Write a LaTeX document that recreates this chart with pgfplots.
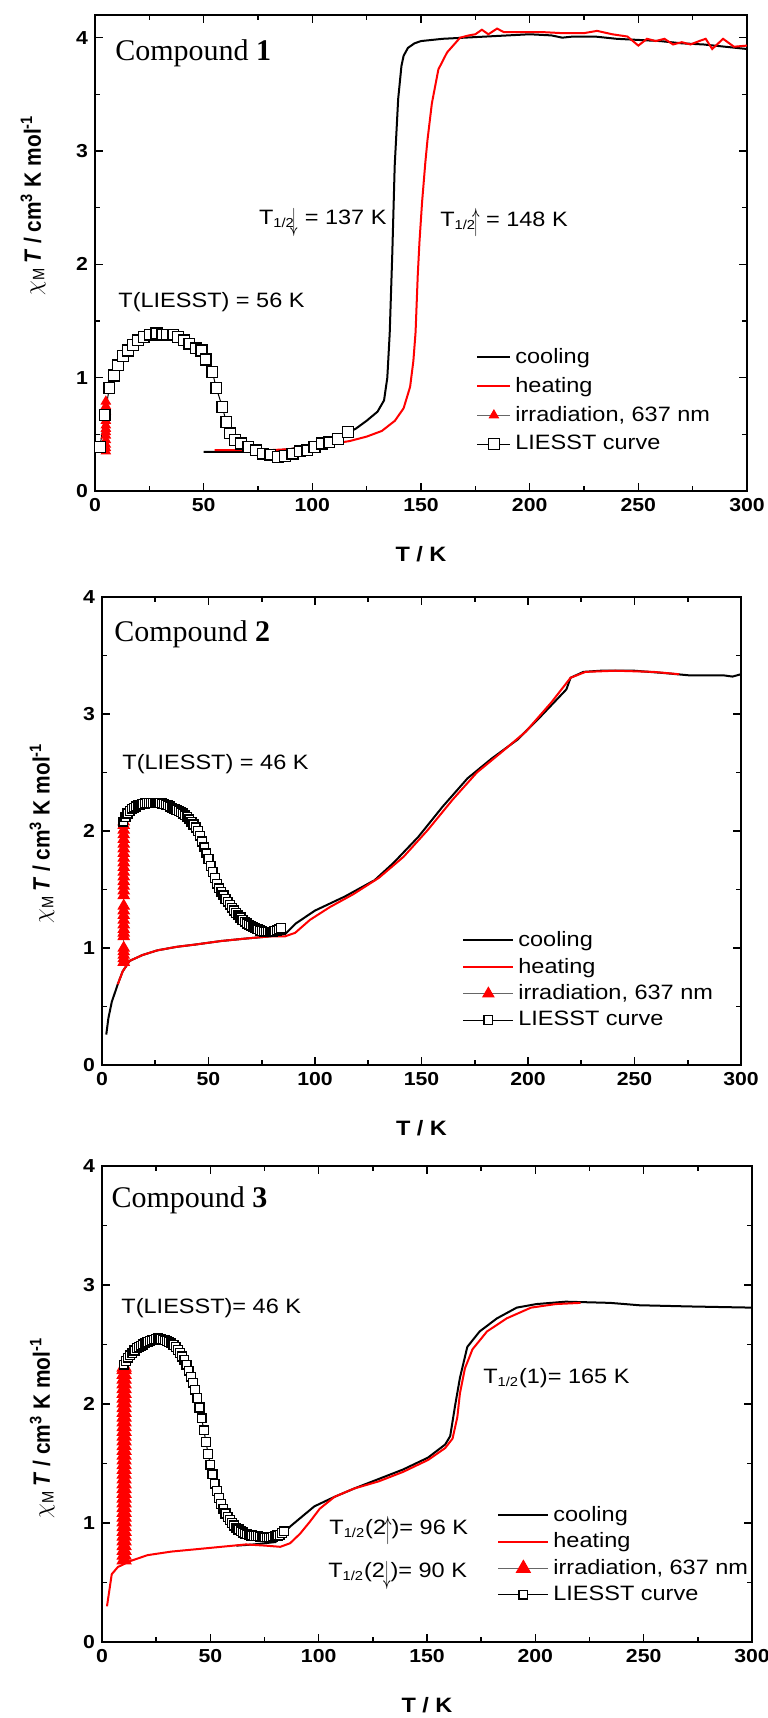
\documentclass[border=0pt]{standalone}
\usepackage{fontspec}
% the reference figure is stretched horizontally by about 1.13
\setmainfont{Liberation Sans}[FakeStretch=1.13]
\newfontfamily\narrow{Liberation Sans}[FakeStretch=0.885]
\newfontfamily\serif{Liberation Serif}
\usepackage{graphicx}
\usepackage{pgfplots}
\pgfplotsset{compat=1.18}

\newcommand{\txt}{\fontsize{10.4}{12.5}\selectfont}
\newcommand{\half}{\textsubscript{\fontsize{6.5}{7.5}\selectfont 1/2}}
\newcommand{\dn}{\raisebox{-3pt}{\scalebox{0.75}[1.6]{$\downarrow$}}}
\newcommand{\up}{\raisebox{-2pt}{\scalebox{0.75}[1.6]{$\uparrow$}}}

\tikzset{
  lbl/.style={anchor=west, inner sep=0pt, font=\txt},
  cmp/.style={anchor=west, inner sep=0pt, font=\serif\fontsize{15}{18}\selectfont},
}

\pgfplotsset{
  magplot/.style={
    scale only axis, anchor=south west,
    xmin=0, xmax=300, ymin=0,
    xtick={0,50,...,300}, ytick={0,1,2,3,4},
    minor x tick num=1, minor y tick num=1,
    tick align=inside, tick pos=both,
    major tick length=4pt, minor tick length=2.5pt,
    axis line style={line width=1pt},
    tick style={line width=0.8pt, black},
    ticklabel style={font=\fontsize{9.4}{11}\selectfont\bfseries},
    /pgf/number format/assume math mode=true,
    xlabel={T / K},
    xlabel style={font=\fontsize{10.4}{12.5}\selectfont\bfseries,
      at={(axis description cs:0.5,0)}, anchor=center, yshift=-31.5pt},
    ylabel={$\chi$\textsubscript{\mdseries M}\,\textbf{\textit{T} / cm\textsuperscript{3} K mol\textsuperscript{-1}}},
    ylabel style={font=\narrow\fontsize{11.8}{14}\selectfont\bfseries, anchor=center},
    legend cell align=left,
    legend style={draw=none, fill=none, font=\txt, anchor=north west,
      inner sep=0pt, row sep=1.5pt},
  },
  cool/.style={black, line width=1pt, no marks},
  heat/.style={red, line width=1pt, no marks},
  irr/.style={line width=0.5pt, draw=black!60, mark=triangle*,
    mark options={solid, fill=red, draw=red}},
  liesst/.style={line width=0.5pt, black, mark=square*,
    mark options={solid, fill=white, draw=black, line width=0.7pt}},
}

\begin{document}
\begin{tikzpicture}
\path[use as bounding box] (0,0) rectangle (383.5pt,-859pt);

% ---------------- Compound 1
\begin{axis}[magplot, at={(47.5pt,-245.5pt)}, width=326pt, height=238pt, ymax=4.2,
  ylabel style={at={(axis description cs:-0.095,0.6)}},
  legend style={at={(axis cs:175.3,1.30)}},
  legend image code/.code={\draw[mark repeat=2,mark phase=2,#1] plot coordinates {(0pt,0pt) (8.25pt,0pt) (16.5pt,0pt)};}]
\addplot[cool] coordinates {
(50,0.345) (60,0.345) (70,0.345) (80,0.35) (90,0.37) (100,0.41) (108,0.45) (115,0.5)
(120,0.55) (125,0.62) (130,0.70) (133,0.80) (134.5,1.0) (135.6,1.39) (136.8,2.1)
(137.9,2.87) (139.5,3.46) (141,3.75) (142,3.84) (144,3.91) (147,3.95) (150,3.97)
(160,3.99) (170,4.0) (180,4.01) (190,4.02) (200,4.03) (210,4.02) (215,4.0) (220,4.01)
(230,4.01) (240,3.99) (250,3.98) (260,3.97) (270,3.95) (280,3.94) (290,3.92) (295,3.91) (300,3.9)};
\addlegendentry{cooling}
\addplot[heat] coordinates {
(55,0.36) (60,0.36) (70,0.36) (80,0.36) (90,0.37) (100,0.39) (110,0.42) (117,0.44)
(125,0.48) (132,0.53) (138,0.62) (142,0.73) (145,0.92) (146.5,1.15) (147.5,1.4)
(148.5,1.9) (149.3,2.2) (150.5,2.55) (152,2.9) (153,3.1) (155,3.42) (158,3.72)
(162,3.87) (168,4.0) (172,4.02) (175,4.03) (178,4.07) (181,4.03) (185,4.08) (188,4.05)
(195,4.05) (205,4.05) (215,4.04) (225,4.04) (231,4.06) (238,4.03) (245,4.01) (250,3.93)
(254,3.99) (258,3.97) (262,3.99) (266,3.94) (270,3.96) (274,3.94) (278,3.97) (281,3.99)
(284,3.90) (289,3.99) (294,3.92) (300,3.93)};
\addlegendentry{heating}
\addplot[irr, mark size=2.6pt] coordinates {
(5,0.35) (5,0.38) (5,0.41) (5,0.45) (5,0.49) (5,0.52) (5,0.55) (5,0.58) (5,0.62)
(5,0.70) (5,0.75) (5,0.79)};
\addlegendentry{irradiation, 637 nm}
\addplot[liesst, mark size=2.7pt] coordinates {
(2.3,0.39) (4.5,0.67) (6.6,0.91) (8.8,1.02) (10.6,1.11) (12.9,1.19) (15.1,1.24)
(17.4,1.29) (19.7,1.33) (22.4,1.36) (25.3,1.38) (28.3,1.39) (31,1.38) (33.2,1.38)
(36,1.38) (38.2,1.36) (41,1.33) (43.4,1.30) (46.3,1.26) (49,1.24) (50.9,1.16)
(54,1.05) (55.8,0.91) (58.6,0.74) (60.4,0.61) (62.2,0.51) (64.4,0.45) (67.1,0.42)
(70.5,0.39) (74,0.36) (77.3,0.33) (80.7,0.32) (84.1,0.30) (87.5,0.31) (90.9,0.33)
(94.3,0.35) (97.7,0.36) (101,0.39) (104.5,0.42) (107.8,0.43) (111.9,0.46) (116.4,0.52)};
\addlegendentry{LIESST curve}
\node[cmp] at (axis cs:9.2,3.86) {Compound \textbf{1}};
\node[lbl] at (axis cs:10.6,1.67) {T(LIESST) = 56 K};
\node[lbl] at (axis cs:75.3,2.37) {T\half\kern-2pt\dn\ = 137 K};
\node[lbl] at (axis cs:158.7,2.37) {T\half\kern-2pt\up\ = 148 K};
\end{axis}

% ---------------- Compound 2
\begin{axis}[magplot, at={(51pt,-532.5pt)}, width=319.5pt, height=234pt, ymax=4,
  ylabel style={at={(axis description cs:-0.094,0.495)}},
  legend style={at={(axis cs:169,1.18)}, row sep=0.3pt},
  legend image code/.code={\draw[mark repeat=2,mark phase=2,#1] plot coordinates {(0pt,0pt) (12.5pt,0pt) (25pt,0pt)};}]
\addplot[cool] coordinates {
(2,0.26) (3,0.4) (4.6,0.54) (7.4,0.69) (9.7,0.80) (13,0.89) (19,0.94) (26,0.98)
(35,1.01) (44,1.03) (56,1.06) (67,1.08) (79,1.10) (86,1.12) (91,1.21) (100,1.32)
(114,1.44) (128,1.58) (137,1.73) (148.5,1.95) (160,2.21) (171.6,2.45) (183,2.62)
(195,2.78) (206,2.98) (218,3.21) (220,3.31) (226,3.36) (234,3.37) (250,3.37)
(264,3.35) (276,3.33) (292,3.33) (296,3.32) (300,3.34)};
\addlegendentry{cooling}
\addplot[heat] coordinates {
(7.4,0.69) (9.7,0.80) (13,0.89) (19,0.94) (26,0.98) (35,1.01) (44,1.03) (56,1.06)
(67,1.08) (79,1.10) (86,1.10) (90.7,1.13) (97.6,1.24) (107,1.35) (118,1.46) (130,1.60)
(141.6,1.78) (153,2.01) (164.7,2.27) (176,2.50) (188,2.68) (199,2.85) (211,3.10)
(220,3.31) (227,3.36) (241,3.37) (259,3.36) (271,3.34)};
\addlegendentry{heating}
\addplot[irr, mark size=3.2pt] coordinates {
(10.2,0.88) (10.2,0.91) (10.2,0.94) (10.2,0.97) (10.2,1.00) (10.2,1.10) (10.2,1.13)
(10.2,1.16) (10.2,1.20) (10.2,1.24) (10.2,1.28) (10.2,1.32) (10.2,1.36) (10.2,1.45)
(10.2,1.49) (10.2,1.53) (10.2,1.57) (10.2,1.61) (10.2,1.65) (10.2,1.69) (10.2,1.73)
(10.2,1.77) (10.2,1.81) (10.2,1.85) (10.2,1.89) (10.2,1.93) (10.2,1.97) (10.2,2.01)
(10.2,2.05) (10.2,2.08)};
\addlegendentry{irradiation, 637 nm}
\addplot[liesst, mark size=2.2pt] coordinates {
(10,2.08) (11,2.12) (12,2.15) (13,2.17) (14,2.19) (15,2.20) (16,2.21) (17,2.22)
(18,2.225) (19,2.23) (20,2.235) (21,2.24) (22,2.24) (23,2.24) (24,2.24) (25,2.24)
(26,2.24) (27,2.24) (28,2.235) (29,2.23) (30,2.225) (31,2.22) (32,2.21) (33,2.20)
(34,2.19) (35,2.18) (36,2.17) (37,2.16) (38,2.15) (39,2.135) (40,2.12) (41,2.10)
(42,2.08) (43,2.055) (44,2.03) (45,2.00) (46,1.96) (47,1.91) (48,1.86) (49,1.81)
(50,1.76) (51,1.70) (52,1.65) (53,1.60) (54,1.55) (55,1.51) (56,1.48) (57,1.45)
(58,1.42) (59,1.395) (60,1.37) (61,1.345) (62,1.32) (63,1.30) (64,1.28) (65,1.26)
(66,1.24) (67,1.225) (68,1.21) (69,1.20) (70,1.19) (71,1.18) (72,1.17) (73,1.16)
(74,1.15) (75,1.145) (76,1.14) (77,1.14) (78,1.14) (79,1.14) (80,1.14) (81,1.145)
(82,1.15) (83,1.16) (84,1.17)};
\addlegendentry{LIESST curve}
\node[cmp] at (axis cs:5.6,3.68) {Compound \textbf{2}};
\node[lbl] at (axis cs:9.4,2.57) {T(LIESST) = 46 K};
\end{axis}

% ---------------- Compound 3
\begin{axis}[magplot, at={(51pt,-821pt)}, width=325pt, height=238pt, ymax=4,
  ylabel style={at={(axis description cs:-0.092,0.45)}},
  legend style={at={(axis cs:182.3,1.18)}, row sep=0.3pt},
  legend image code/.code={\draw[mark repeat=2,mark phase=2,#1] plot coordinates {(0pt,0pt) (12.5pt,0pt) (25pt,0pt)};}]
\addplot[cool] coordinates {
(62,0.81) (70,0.82) (80,0.84) (86.8,0.97) (91.4,1.04) (98,1.14) (107.3,1.22)
(116.4,1.29) (127.7,1.37) (139,1.45) (150.5,1.55) (158.4,1.66) (160.7,1.73) (163,1.99)
(165.2,2.22) (168.6,2.48) (174.3,2.61) (182.3,2.72) (191.4,2.81) (200.5,2.84) (214,2.86)
(234.5,2.85) (248,2.83) (271,2.82) (300,2.81)};
\addlegendentry{cooling}
\addplot[heat] coordinates {
(2.3,0.30) (4.5,0.57) (7.3,0.63) (13,0.68) (21,0.73) (32,0.76) (43.6,0.78) (55,0.80)
(66.4,0.82) (75.5,0.81) (82.3,0.80) (86.8,0.83) (91.4,0.91) (95.9,1.01) (100.5,1.12)
(107.3,1.22) (116.4,1.29) (127.7,1.35) (139,1.43) (150.5,1.53) (158.4,1.63) (161.8,1.71)
(164,1.89) (165.2,2.09) (167.5,2.30) (171,2.46) (177.7,2.61) (186.8,2.72) (198,2.81)
(209.5,2.84) (220.9,2.85)};
\addlegendentry{heating}
\addplot[irr, mark size=4pt] coordinates {
(10.2,0.69) (10.2,0.73) (10.2,0.77) (10.2,0.81) (10.2,0.85) (10.2,0.89) (10.2,0.93)
(10.2,0.97) (10.2,1.01) (10.2,1.05) (10.2,1.09) (10.2,1.13) (10.2,1.17) (10.2,1.21)
(10.2,1.25) (10.2,1.29) (10.2,1.33) (10.2,1.37) (10.2,1.41) (10.2,1.45) (10.2,1.49)
(10.2,1.53) (10.2,1.57) (10.2,1.61) (10.2,1.65) (10.2,1.69) (10.2,1.73) (10.2,1.77)
(10.2,1.81) (10.2,1.85) (10.2,1.89) (10.2,1.93) (10.2,1.97) (10.2,2.01) (10.2,2.05)
(10.2,2.09) (10.2,2.13) (10.2,2.17) (10.2,2.21) (10.2,2.25) (10.2,2.29) (10.2,2.31)};
\addlegendentry{irradiation, 637 nm}
\addplot[liesst, mark size=2.2pt] coordinates {
(10,2.33) (11,2.36) (12,2.39) (13,2.41) (14,2.43) (15,2.45) (16,2.47) (17,2.48)
(18,2.49) (19,2.50) (20,2.51) (21,2.52) (22,2.53) (23,2.535) (24,2.54) (25,2.545)
(26,2.55) (27,2.545) (28,2.54) (29,2.535) (30,2.53) (31,2.52) (32,2.51) (33,2.495)
(34,2.48) (35,2.455) (36,2.43) (37,2.40) (38,2.37) (39,2.33) (40,2.28) (41,2.23)
(42,2.18) (43,2.12) (44,2.05) (45,1.97) (46,1.88) (47,1.78) (48,1.68) (49,1.58)
(50,1.49) (51,1.41) (52,1.33) (53,1.27) (54,1.21) (55,1.16) (56,1.12) (57,1.08)
(58,1.05) (59,1.025) (60,1.00) (61,0.98) (62,0.96) (63,0.945) (64,0.93) (65,0.92)
(66,0.91) (67,0.905) (68,0.90) (69,0.895) (70,0.89) (71,0.89) (72,0.89) (73,0.885)
(74,0.88) (75,0.88) (76,0.88) (77,0.88) (78,0.88) (79,0.885) (80,0.89) (81,0.895)
(82,0.90) (83,0.915) (84,0.93)};
\addlegendentry{LIESST curve}
\node[cmp] at (axis cs:4.2,3.71) {Compound \textbf{3}};
\node[lbl] at (axis cs:8.8,2.81) {T(LIESST)= 46 K};
\node[lbl] at (axis cs:175.8,2.22) {T\half(1)= 165 K};
\node[lbl] at (axis cs:104.8,0.94) {T\half(2\kern-1pt\up)= 96 K};
\node[lbl] at (axis cs:104.3,0.56) {T\half(2\kern-1pt\dn)= 90 K};
\end{axis}
\end{tikzpicture}
\end{document}
